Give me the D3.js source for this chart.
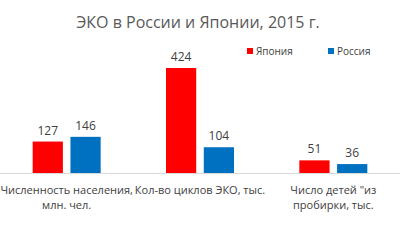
<!DOCTYPE html>
<html>
<head>
<meta charset="utf-8">
<script src="https://cdn.jsdelivr.net/npm/d3@7"></script>
<style>
  body { margin: 0; background: #fff; }
  text { font-family: "Open Sans", "Noto Sans", sans-serif; }
</style>
</head>
<body>
<svg width="400" height="250"></svg>
<script>
const categories = ['Численность населения, млн. чел.', 'Кол-во циклов ЭКО, тыс.', 'Число детей "из пробирки, тыс.'];
const categoryLines = [['Численность населения,', 'млн. чел.'], ['Кол-во циклов ЭКО, тыс.'], ['Число детей "из', 'пробирки, тыс.']];
const seriesNames = ['Япония', 'Россия'];
const japan = [127, 424, 51];
const russia = [146, 104, 36];
const colors = ['#ff0000', '#0070c0'];

const svg = d3.select('svg');
const width = +svg.attr('width');

const baseline = 173;
const topY = 68;

const data = categories.map((c, i) => ({ cat: c, values: [japan[i], russia[i]] }));

// scales
const x0 = d3.scaleBand().domain(categories).range([0, 400]).paddingInner(0).paddingOuter(0);
const x1 = d3.scaleBand().domain(seriesNames).range([0, 68]).paddingInner(0.2).paddingOuter(0);
const y = d3.scaleLinear().domain([0, 424]).range([baseline, topY]);

// title
svg.append('text')
  .attr('x', 198).attr('y', 28)
  .attr('text-anchor', 'middle')
  .attr('fill', '#595959')
  .attr('font-size', 16)
  .text('ЭКО в России и Японии, 2015 г.');

// bars
const groups = svg.selectAll('.grp').data(data).join('g')
  .attr('transform', d => `translate(${x0(d.cat) + (x0.bandwidth() - 68) / 2},0)`);

groups.selectAll('rect').data(d => d.values.map((v, j) => ({ s: seriesNames[j], v, j })))
  .join('rect')
  .attr('x', d => x1(d.s))
  .attr('width', x1.bandwidth())
  .attr('y', d => y(d.v))
  .attr('height', d => y(0) - y(d.v))
  .attr('fill', d => colors[d.j]);

groups.selectAll('.val').data(d => d.values.map((v, j) => ({ s: seriesNames[j], v, j })))
  .join('text')
  .attr('class', 'val')
  .attr('x', d => x1(d.s) + x1.bandwidth() / 2)
  .attr('y', d => y(d.v) - 7)
  .attr('text-anchor', 'middle')
  .attr('fill', '#404040')
  .attr('font-size', 12)
  .text(d => d.v);

// baseline
svg.append('line')
  .attr('x1', 0).attr('x2', width)
  .attr('y1', baseline + 0.5).attr('y2', baseline + 0.5)
  .attr('stroke', '#d9d9d9');

// category labels
const xAxisG = svg.append('g');
categories.forEach((c, i) => {
  const t = xAxisG.append('text')
    .attr('x', x0(c) + x0.bandwidth() / 2)
    .attr('y', 194)
    .attr('text-anchor', 'middle')
    .attr('fill', '#404040')
    .attr('font-size', 11);
  categoryLines[i].forEach((line, k) => {
    t.append('tspan').attr('x', x0(c) + x0.bandwidth() / 2).attr('dy', k ? 15 : 0).text(line);
  });
});

// legend
const legend = svg.append('g').attr('transform', 'translate(247,52)');
seriesNames.forEach((s, i) => {
  const lg = legend.append('g').attr('transform', `translate(${i * 81},0)`);
  lg.append('rect').attr('x', 0).attr('y', -4).attr('width', 6).attr('height', 6).attr('fill', colors[i]);
  lg.append('text').attr('x', 9).attr('y', 3).attr('font-size', 10).attr('fill', '#404040').text(s);
});
</script>
</body>
</html>
